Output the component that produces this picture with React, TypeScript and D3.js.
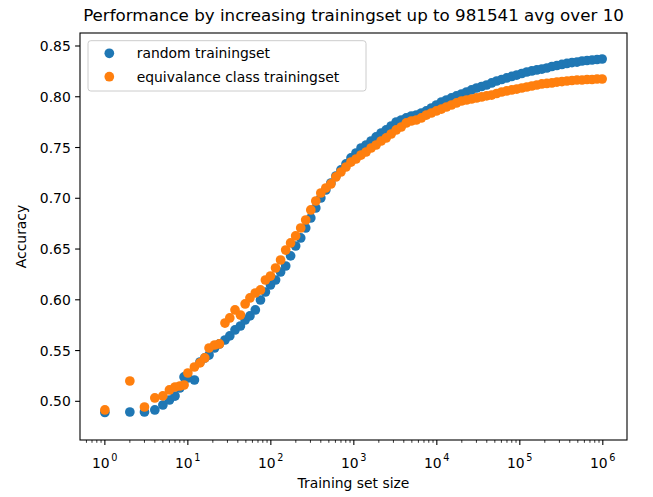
import React, { useMemo } from 'react';
import * as d3 from 'd3';

// training set sizes (log spaced, truncated to ints)
const sizes = [
  1, 2, 3, 4, 5, 6, 7, 8, 9, 10, 12, 14, 16, 18, 21, 24, 28, 32, 37, 43, 49, 56, 65, 75, 86, 99,
  114, 131, 151, 173, 199, 229, 263, 303, 348, 400, 460, 529, 608, 699, 804, 924,
  1062, 1221, 1404, 1614, 1855, 2133, 2452, 2818, 3240, 3724, 4281, 4921, 5657, 6503, 7475, 8593, 9877,
  11354, 13052, 15003, 17246, 19824, 22788, 26195, 30111, 34613, 39788, 45737, 52575, 60436, 69471, 79858, 91797,
  105522, 121298, 139433, 160280, 184243, 211789, 243453, 279851, 321691, 369786, 425072, 488624, 561678, 645653,
  742183, 853146, 981541,
];

const randomAcc = [
  0.489, 0.4895, 0.4895, 0.4915, 0.4964, 0.5013, 0.5052, 0.5131, 0.524, 0.523, 0.521, 0.5387, 0.5427, 0.5456,
  0.5525, 0.5565, 0.5604, 0.5644, 0.5703, 0.5742, 0.5801, 0.5841, 0.59, 0.5998, 0.6077, 0.6146,
  0.6195, 0.6274, 0.6333, 0.6432, 0.653, 0.6609, 0.6707, 0.6806, 0.6904, 0.7003, 0.7082, 0.715, 0.7219, 0.7279,
  0.7338, 0.7397,
  0.7446, 0.7495, 0.7525, 0.7564, 0.7604, 0.7643, 0.7673, 0.7712, 0.7751, 0.7771, 0.7791, 0.781, 0.782, 0.784,
  0.786, 0.7889, 0.7919,
  0.7948, 0.7968, 0.7988, 0.8008, 0.8027, 0.8047, 0.8067, 0.8086, 0.8101, 0.8116, 0.8136, 0.8155, 0.817, 0.8185,
  0.82, 0.8214,
  0.8229, 0.8244, 0.8254, 0.8264, 0.8273, 0.8283, 0.8298, 0.8308, 0.8318, 0.8328, 0.8337, 0.8342, 0.8352, 0.8357,
  0.8362, 0.8367, 0.8372,
];

const equivAcc = [
  0.4915, 0.52, 0.4944, 0.5033, 0.5053, 0.5112, 0.5141, 0.5151, 0.5161, 0.5279, 0.5338, 0.5378, 0.5427, 0.5525,
  0.5555, 0.5565, 0.5771, 0.5821, 0.59, 0.585, 0.5959, 0.6018, 0.6067, 0.6097, 0.6195, 0.6234,
  0.6313, 0.6392, 0.649, 0.656, 0.6629, 0.6707, 0.6786, 0.6885, 0.6973, 0.7052, 0.7101, 0.7141, 0.721, 0.7259,
  0.7308, 0.7357,
  0.7387, 0.7426, 0.7456, 0.7495, 0.7525, 0.7564, 0.7594, 0.7633, 0.7673, 0.7702, 0.7742, 0.7761, 0.7771, 0.7791,
  0.782, 0.784, 0.786,
  0.7879, 0.7899, 0.7919, 0.7939, 0.7958, 0.7968, 0.7978, 0.7988, 0.7998, 0.8008, 0.8017, 0.8032, 0.8047, 0.8057,
  0.8067, 0.8076,
  0.8086, 0.8096, 0.8106, 0.8116, 0.8126, 0.8131, 0.8136, 0.8145, 0.815, 0.8155, 0.816, 0.8165, 0.8165, 0.817,
  0.817, 0.8175, 0.8175,
];

const series = [
  { name: 'random trainingset', color: '#1f77b4', values: randomAcc },
  { name: 'equivalance class trainingset', color: '#ff7f0e', values: equivAcc },
];

const yTicks = [0.5, 0.55, 0.6, 0.65, 0.7, 0.75, 0.8, 0.85];
const xTickExps = [0, 1, 2, 3, 4, 5, 6];

const WIDTH = 653;
const HEIGHT = 497;
const FONT = 'DejaVu Sans, sans-serif';
const margin = { left: 80, right: 627, top: 33, bottom: 440 };

const App = () => {
  const scales = useMemo(() => {
    const x = d3.scaleLog()
      .domain([Math.pow(10, -0.2996), Math.pow(10, 6.2915)])
      .range([margin.left, margin.right]);
    const y = d3.scaleLinear()
      .domain([0.4619, 0.8628])
      .range([margin.bottom, margin.top]);
    return { x, y };
  }, []);

  const { x, y } = scales;
  const [x0, x1] = x.domain();

  // minor ticks: 2..9 x 10^k inside the domain
  const minorTicks = [];
  for (let k = -1; k <= 6; k++) {
    for (let m = 2; m <= 9; m++) {
      const v = m * Math.pow(10, k);
      if (v >= x0 && v <= x1) minorTicks.push(v);
    }
  }

  return (
    <svg
      width={WIDTH}
      height={HEIGHT}
      style={{ position: 'fixed', left: 0, top: 0, background: '#fff' }}
      fontFamily={FONT}
    >
      {/* Title */}
      <text x={(margin.left + margin.right) / 2} y={21} fontSize="16.7" textAnchor="middle" fill="#000">
        Performance by increasing trainingset up to 981541 avg over 10
      </text>

      {/* Points */}
      {series.map(s => (
        <g key={s.name}>
          {sizes.map((sz, i) => (
            <circle key={i} cx={x(sz)} cy={y(s.values[i])} r="4.85" fill={s.color} />
          ))}
        </g>
      ))}

      {/* Spines */}
      <rect
        x={margin.left}
        y={margin.top}
        width={margin.right - margin.left}
        height={margin.bottom - margin.top}
        fill="none"
        stroke="#000"
        strokeWidth="1.1"
      />

      {/* Y axis */}
      {yTicks.map(t => (
        <g key={t} transform={`translate(0, ${y(t)})`}>
          <line x1={margin.left - 4.9} x2={margin.left} stroke="#000" strokeWidth="1.1" />
          <text x={margin.left - 9.2} y="0" dy="0.36em" fontSize="13.9" textAnchor="end" fill="#000">
            {t.toFixed(2)}
          </text>
        </g>
      ))}

      {/* X axis */}
      {minorTicks.map(t => (
        <line
          key={t}
          x1={x(t)}
          x2={x(t)}
          y1={margin.bottom}
          y2={margin.bottom + 2.8}
          stroke="#000"
          strokeWidth="0.8"
        />
      ))}
      {xTickExps.map(e => {
        const px = x(Math.pow(10, e));
        return (
          <g key={e} transform={`translate(${px}, 0)`}>
            <line y1={margin.bottom} y2={margin.bottom + 4.9} stroke="#000" strokeWidth="1.1" />
            <text x="-4" y={margin.bottom + 28} fontSize="13.9" textAnchor="middle" fill="#000">
              10
            </text>
            <text x="6.5" y={margin.bottom + 21} fontSize="9.7" textAnchor="start" fill="#000">
              {e}
            </text>
          </g>
        );
      })}

      {/* Axis labels */}
      <text x={(margin.left + margin.right) / 2} y={488} fontSize="13.9" textAnchor="middle" fill="#000">
        Training set size
      </text>
      <text
        transform={`translate(26, ${(margin.top + margin.bottom) / 2}) rotate(-90)`}
        fontSize="13.9"
        textAnchor="middle"
        fill="#000"
      >
        Accuracy
      </text>

      {/* Legend */}
      <g>
        <rect
          x="88"
          y="40.7"
          width="278"
          height="50.3"
          rx="2.8"
          fill="#fff"
          fillOpacity="0.8"
          stroke="#cccccc"
          strokeWidth="1"
        />
        {series.map((s, i) => (
          <g key={s.name} transform={`translate(0, ${53.3 + i * 23.4})`}>
            <circle cx="109.3" cy="0" r="4.85" fill={s.color} />
            <text x="136.7" y="0" dy="0.36em" fontSize="13.9" fill="#000">
              {s.name}
            </text>
          </g>
        ))}
      </g>
    </svg>
  );
};

export default App;
